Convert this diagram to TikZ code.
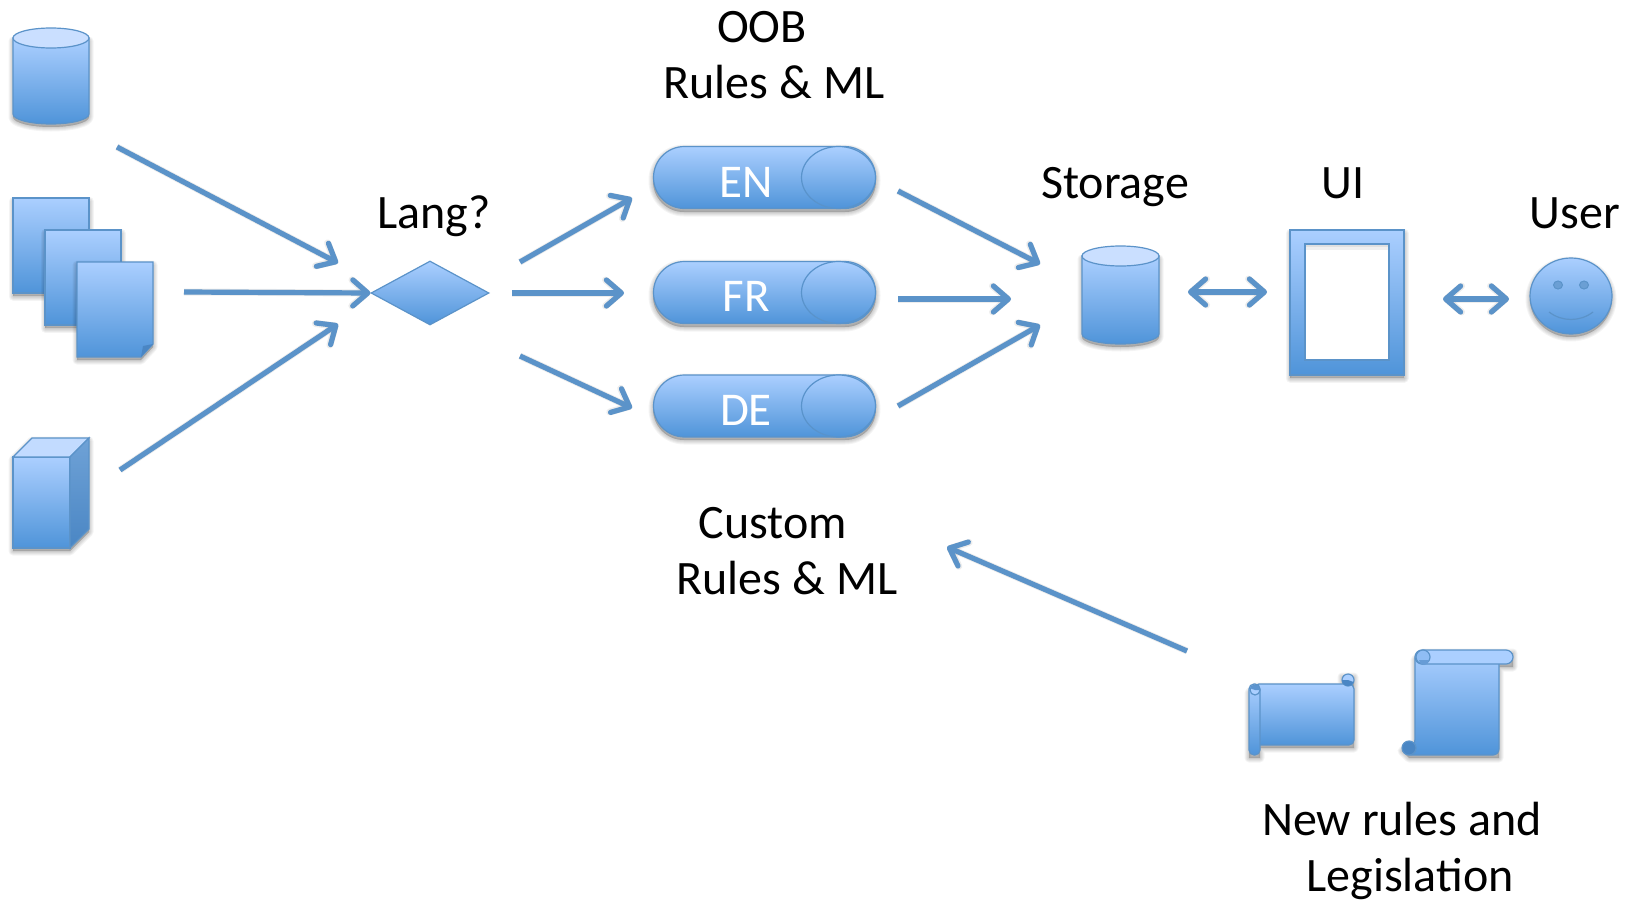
\documentclass[tikz,border=0pt]{standalone}
\usepackage{fontspec}
\setmainfont{Carlito}
\usetikzlibrary{arrows.meta,shapes.geometric,shapes.misc}
\definecolor{edgeblue}{HTML}{5B93C9}
\definecolor{toplight}{HTML}{ABCFFF}
\definecolor{botdark}{HTML}{4F94D9}
\definecolor{lidblue}{HTML}{CADFFF}
\definecolor{darkcurl}{HTML}{4A86C4}
\tikzset{
  blue fill/.style={draw=edgeblue,line width=1.2pt,top color=toplight,bottom color=botdark,middle color=toplight!50!botdark},
  label text/.style={font=\fontsize{48}{48}\selectfont,text=black,inner sep=0pt,anchor=base},
  pill text/.style={font=\fontsize{47}{47}\selectfont,text=white,inner sep=0pt,anchor=base},
  pill/.style={rounded rectangle,blue fill,minimum width=222pt,minimum height=62pt,inner sep=0pt},
  conn/.style={draw=edgeblue,line width=5.2pt,-{Straight Barb[length=15pt,width=26pt,round]}},
  twoway/.style={draw=edgeblue,line width=5.2pt,{Straight Barb[length=15pt,width=26pt,round]}-{Straight Barb[length=15pt,width=26pt,round]}},
  conn shadow/.style={black,opacity=.07,yshift=-3pt},
}
\newcommand{\softshadow}[1]{%
  \foreach \w in {9,7,5,3,1}{\fill[black,opacity=.045,draw=black,line width=\w pt,line join=round,yshift=-3pt] #1;}}
\newcommand{\arrowline}[3]{%
  \draw[#1,conn shadow,line width=7pt] (#2) -- (#3);
  \draw[#1,conn shadow] (#2) -- (#3);
  \draw[#1] (#2) -- (#3);}
\newcommand{\cylinder}[4]{% x1 x2 ytop ybottom
  \softshadow{(#1,#3+10) -- (#2,#3+10) -- (#2,#4-10) arc[start angle=0,end angle=180,x radius=(#2-#1)/2,y radius=10] -- cycle}
  \draw[blue fill] (#1,#3+10) -- (#2,#3+10) -- (#2,#4-10) arc[start angle=0,end angle=180,x radius=(#2-#1)/2,y radius=10] -- cycle;
  \draw[draw=edgeblue,line width=1.2pt,fill=lidblue] ({(#1+#2)/2},#3+10) ellipse[x radius=(#2-#1)/2,y radius=10];}
\newcommand{\sheet}[4]{%
  \softshadow{(#1,#3) rectangle (#2,#4)}
  \draw[blue fill] (#1,#3) rectangle (#2,#4);}
\begin{document}
\begin{tikzpicture}[x=1pt,y=-1pt]
\path[use as bounding box,fill=white] (0,0) rectangle (1637,899);

% sources
\cylinder{13}{89}{28}{124}
\sheet{13}{89}{198}{293}
\sheet{45}{121}{230}{325}
\softshadow{(77,262) -- (153,262) -- (153,344) -- (141,357) -- (77,357) -- cycle}
\draw[blue fill] (77,262) -- (153,262) -- (153,344) -- (141,357) -- (77,357) -- cycle;
\fill[darkcurl] (153,344) -- (143,346) -- (141,357) -- cycle;
% cube
\softshadow{(13,457) -- (32,438) -- (89,438) -- (89,529) -- (70,548) -- (13,548) -- cycle}
\draw[blue fill] (13,457) rectangle (70,548);
\draw[draw=edgeblue,line width=1.2pt,fill=lidblue!75!toplight] (13,457) -- (32,438) -- (89,438) -- (70,457) -- cycle;
\draw[draw=edgeblue,line width=1.2pt,top color=edgeblue!75!toplight,bottom color=darkcurl] (70,457) -- (89,438) -- (89,529) -- (70,548) -- cycle;

% decision
\node[diamond,blue fill,minimum width=118pt,minimum height=64pt,inner sep=0pt] (lang) at (430,293) {};

% pills
\foreach \ya/\yb in {146/209,261/324,375/437}{
  \softshadow{[rounded corners=31pt] (653,\ya) rectangle (876,\yb)}
}
\node[pill] (en) at (764.5,177.5) {};
\node[pill] (fr) at (764.5,292.5) {};
\node[pill] (de) at (764.5,406) {};
\foreach \n in {en,fr,de}{
  \draw[blue fill,draw=edgeblue!85!botdark] (\n.center)++(74,0) ellipse[x radius=37,y radius=31];
}
\node[pill text] (entext) at (746,197) {EN};
\node[pill text] (frtext) at (746,311) {FR};
\node[pill text] (detext) at (746,425) {DE};

% storage, UI, user
\cylinder{1082}{1159}{246}{344}
\softshadow{(1290,230) rectangle (1404,375)}
\draw[blue fill,even odd rule] (1290,230) rectangle (1404,375) (1305,244) rectangle (1389,360);
\fill[white] (1305.6,244.6) rectangle (1388.4,359.4);
\fill[black,opacity=.12] (1305.6,244.6) rectangle (1388.4,247);
\fill[black,opacity=.06] (1305.6,247) rectangle (1388.4,250);
\softshadow{(1571,296) ellipse[x radius=41,y radius=38]}
\draw[blue fill] (1571,296) ellipse[x radius=41,y radius=38];
\fill[draw=edgeblue,line width=1pt,fill=edgeblue!80!toplight] (1558,285) ellipse[x radius=4.5,y radius=4];
\fill[draw=edgeblue,line width=1pt,fill=edgeblue!80!toplight] (1584,285) ellipse[x radius=4.5,y radius=4];
\draw[edgeblue,line width=1.2pt] (1549,312) .. controls (1562,322) and (1580,322) .. (1593,312);

% scroll 1
\softshadow{(1249,690) -- (1255,684) -- (1342,684) -- (1342,674) -- (1354,674) -- (1354,745) -- (1260,745) -- (1260,755) -- (1249,755) -- cycle}
\draw[blue fill,rounded corners=5pt] (1254,684) -- (1354,684) -- (1354,745) -- (1254,745) -- cycle;
\draw[blue fill,rounded corners=5pt] (1249,684) rectangle (1260,755);
\draw[draw=edgeblue,line width=1.2pt,fill=toplight] (1255,690) circle[radius=5];
\fill[darkcurl!80!toplight] (1255,690) -- (1260,690) arc[start angle=0,end angle=-160,radius=5] -- cycle;
\draw[draw=edgeblue,line width=1.2pt,fill=toplight] (1348,680) circle[radius=6];
\fill[darkcurl] (1348,680) -- (1342,680) arc[start angle=180,end angle=20,radius=6] -- cycle;

% scroll 2
\softshadow{(1402,748) -- (1415,741) -- (1415,657) -- (1423,650) -- (1513,650) -- (1513,664) -- (1499,664) -- (1499,755) -- (1409,755) -- cycle}
\draw[blue fill,rounded corners=6pt] (1415,652) -- (1499,652) -- (1499,755) -- (1405,755) -- (1415,745) -- cycle;
\draw[draw=edgeblue,line width=1.2pt,fill=toplight,rounded corners=7pt] (1415,650) rectangle (1513,664);
\draw[draw=edgeblue,line width=1.2pt,fill=toplight!70!botdark] (1423,657) circle[radius=7];
\fill[darkcurl!70!toplight] (1419,660) arc[start angle=180,end angle=0,radius=5] -- cycle;
\draw[draw=edgeblue,line width=1.2pt,fill=darkcurl] (1409,748) circle[radius=7];

% free ends of the connectors
\coordinate (a1s) at (117,147);  \coordinate (a1e) at (338,263);
\coordinate (a2s) at (184,292);
\coordinate (a3s) at (120,470);  \coordinate (a3e) at (338,324);
\coordinate (b1s) at (520,262);  \coordinate (b1e) at (632,198);
\coordinate (b2s) at (512,293);  \coordinate (b2e) at (624,293);
\coordinate (b3s) at (520,356);  \coordinate (b3e) at (632,408);
\coordinate (c1s) at (898,191);  \coordinate (c1e) at (1040,264);
\coordinate (c2s) at (898,299);  \coordinate (c2e) at (1011,299);
\coordinate (c3s) at (898,406);  \coordinate (c3e) at (1040,325);
\coordinate (d1s) at (1188,292); \coordinate (d1e) at (1267,292);
\coordinate (d2s) at (1443,299); \coordinate (d2e) at (1509,299);
\coordinate (e1s) at (1187,651); \coordinate (e1e) at (947,547);

\arrowline{conn}{a1s}{a1e}
\arrowline{conn}{a2s}{lang.west}
\arrowline{conn}{a3s}{a3e}
\arrowline{conn}{b1s}{b1e}
\arrowline{conn}{b2s}{b2e}
\arrowline{conn}{b3s}{b3e}
\arrowline{conn}{c1s}{c1e}
\arrowline{conn}{c2s}{c2e}
\arrowline{conn}{c3s}{c3e}
\arrowline{twoway}{d1s}{d1e}
\arrowline{twoway}{d2s}{d2e}
\arrowline{conn}{e1s}{e1e}

% labels
\node[label text] (oob) at (762,43) {OOB};
\node[label text] (rules1) at (774,98) {Rules \& ML};
\node[label text] (langq) at (434,228) {Lang?};
\node[label text] (storage) at (1115,198) {Storage};
\node[label text] (ui) at (1343,198) {UI};
\node[label text] (user) at (1575,228) {User};
\node[label text] (custom) at (773,538) {Custom};
\node[label text] (rules2) at (787,594) {Rules \& ML};
\node[label text] (newrules) at (1402,835) {New rules and};
\node[label text] (legis) at (1410,891) {Legislation};
\end{tikzpicture}
\end{document}
